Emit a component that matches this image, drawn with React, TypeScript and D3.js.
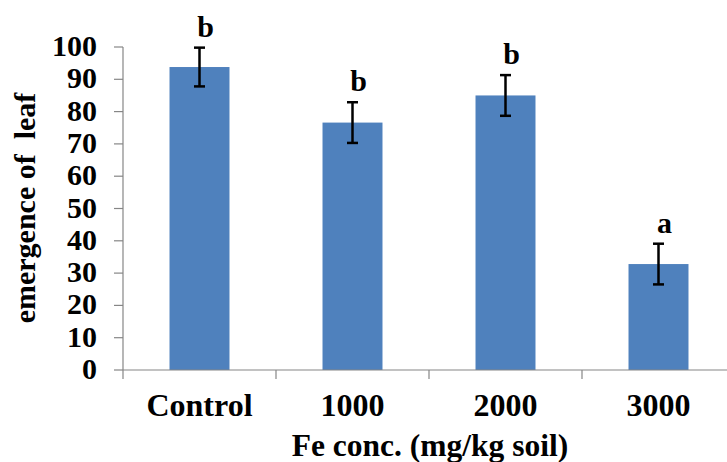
import React from "react";
import * as d3 from "d3";

const categories = ["Control", "1000", "2000", "3000"];
const means = [93.8, 76.6, 85.0, 32.8];
const errors = [6.0, 6.3, 6.3, 6.3];
const letters = ["b", "b", "b", "a"];
const yTicks = [0, 10, 20, 30, 40, 50, 60, 70, 80, 90, 100];
const xTitle = "Fe conc. (mg/kg soil)";
const yTitle = "emergence of  leaf";

const W = 727;
const H = 462;
const FONT = "'Liberation Serif', 'Times New Roman', serif";

export default function App() {
  const x = d3
    .scaleBand<string>()
    .domain(categories)
    .range([123, 735])
    .paddingInner(0.608)
    .paddingOuter(0.304);
  const y = d3.scaleLinear().domain([0, 100]).range([370, 47]);
  const step = x.step();
  const bw = x.bandwidth();
  const gap = (step - bw) / 2;
  const axisColor = "#868686";

  return (
    <svg
      width={W}
      height={H}
      style={{ position: "absolute", left: 0, top: 0, display: "block", background: "#fff" }}
      fontFamily={FONT}
    >
      {/* bars */}
      {categories.map((c, i) => (
        <rect
          key={c}
          x={x(c)}
          y={y(means[i])}
          width={bw}
          height={y(0) - y(means[i])}
          fill="#4F81BD"
        />
      ))}
      {/* y axis */}
      <line x1={123} x2={123} y1={y(100)} y2={y(0)} stroke={axisColor} strokeWidth={1.2} />
      {yTicks.map((t) => (
        <g key={t}>
          <line x1={114} x2={123} y1={y(t)} y2={y(t)} stroke={axisColor} strokeWidth={1.2} />
          <text
            x={97}
            y={y(t) + 9}
            textAnchor="end"
            fontSize={29}
            fontWeight="bold"
            textLength={String(t).length * 15}
            lengthAdjust="spacingAndGlyphs"
          >
            {t}
          </text>
        </g>
      ))}
      {/* x axis */}
      <line x1={123} x2={735} y1={y(0)} y2={y(0)} stroke={axisColor} strokeWidth={1.2} />
      {categories.map((c) => (
        <line
          key={"t" + c}
          x1={(x(c) as number) - gap}
          x2={(x(c) as number) - gap}
          y1={y(0)}
          y2={y(0) + 9}
          stroke={axisColor}
          strokeWidth={1.2}
        />
      ))}
      {categories.map((c) => (
        <text
          key={"l" + c}
          x={(x(c) as number) + bw / 2}
          y={416}
          textAnchor="middle"
          fontSize={32}
          fontWeight="bold"
        >
          {c}
        </text>
      ))}
      {/* error bars */}
      {categories.map((c, i) => {
        const cx = (x(c) as number) + bw / 2;
        const top = y(means[i] + errors[i]);
        const bot = y(means[i] - errors[i]);
        return (
          <g key={"e" + c} stroke="#000" strokeWidth={2.5}>
            <line x1={cx} x2={cx} y1={top} y2={bot} />
            <line x1={cx - 5.5} x2={cx + 5.5} y1={top} y2={top} />
            <line x1={cx - 5.5} x2={cx + 5.5} y1={bot} y2={bot} />
          </g>
        );
      })}
      {/* significance letters */}
      {categories.map((c, i) => (
        <text
          key={"s" + c}
          x={(x(c) as number) + bw / 2 + 6}
          y={y(means[i] + errors[i]) - 11}
          textAnchor="middle"
          fontSize={30}
          fontWeight="bold"
        >
          {letters[i]}
        </text>
      ))}
      {/* titles */}
      <text x={430} y={456} textAnchor="middle" fontSize={31.5} fontWeight="bold">
        {xTitle}
      </text>
      <text
        transform={`translate(35,208) rotate(-90)`}
        textAnchor="middle"
        fontSize={30}
        fontWeight="bold"
        style={{ whiteSpace: "pre" }}
      >
        {yTitle}
      </text>
    </svg>
  );
}
